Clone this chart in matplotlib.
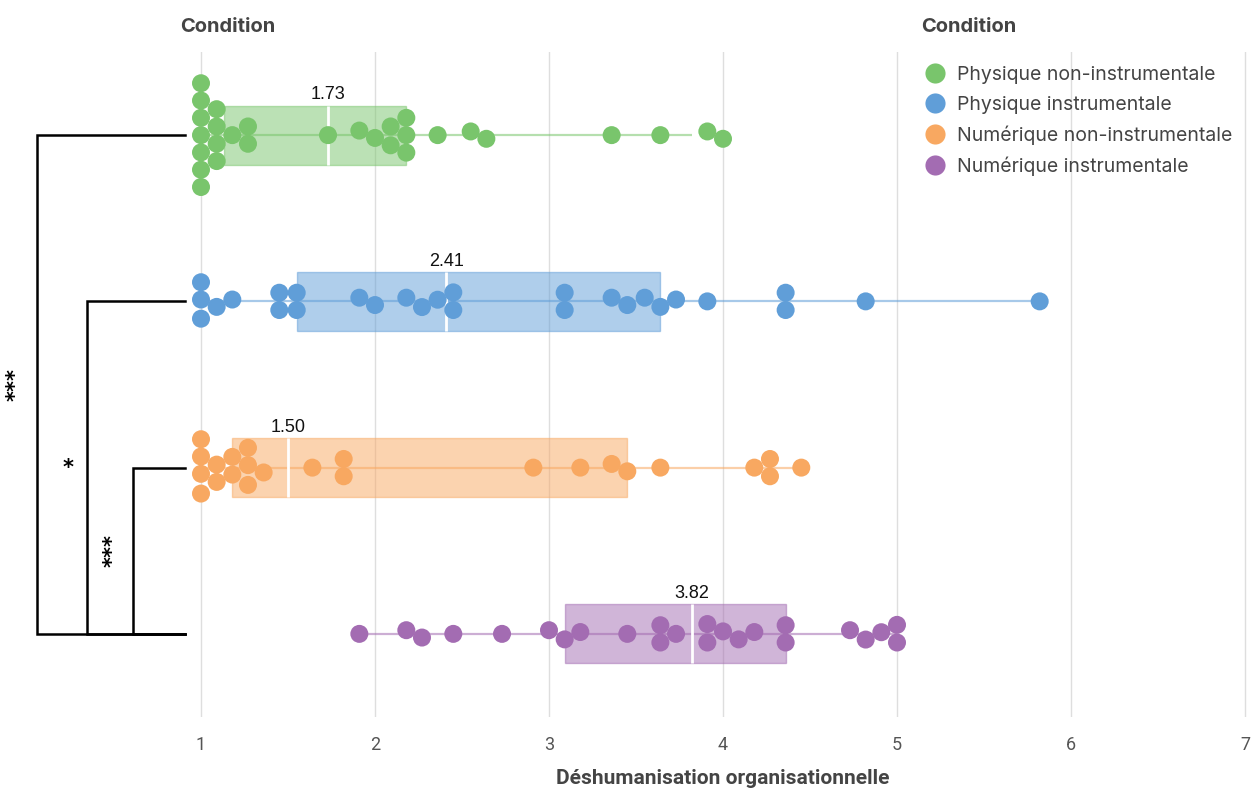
import numpy as np
import matplotlib
matplotlib.use("Agg")
import matplotlib.pyplot as plt
from matplotlib.patches import Rectangle
from matplotlib.lines import Line2D
from matplotlib.transforms import blended_transform_factory

# ---------------- data ----------------
categories = ["Physique non-instrumentale", "Physique instrumentale",
              "Numérique non-instrumentale", "Numérique instrumentale"]

phys_non_instr = [1.00, 1.00, 1.00, 1.00, 1.00, 1.00, 1.00, 1.09, 1.09, 1.09, 1.09,
                  1.18, 1.27, 1.27, 1.73, 1.91, 2.00, 2.09, 2.09, 2.18, 2.18, 2.18,
                  2.36, 2.55, 2.64, 3.36, 3.64, 3.91, 4.00]
phys_instr = [1.00, 1.00, 1.00, 1.09, 1.18, 1.45, 1.45, 1.55, 1.55, 1.91, 2.00, 2.18,
              2.27, 2.36, 2.45, 2.45, 3.09, 3.09, 3.36, 3.45, 3.55, 3.64, 3.73, 3.91,
              4.36, 4.36, 4.82, 5.82]
num_non_instr = [1.00, 1.00, 1.00, 1.00, 1.09, 1.09, 1.18, 1.18, 1.27, 1.27, 1.27,
                 1.36, 1.64, 1.82, 1.82, 2.91, 3.18, 3.36, 3.45, 3.64, 4.18, 4.27,
                 4.27, 4.45]
num_instr = [1.91, 2.18, 2.27, 2.45, 2.73, 3.00, 3.09, 3.18, 3.45, 3.64, 3.64, 3.73,
             3.91, 3.91, 4.00, 4.09, 4.18, 4.36, 4.36, 4.73, 4.82, 4.91, 5.00, 5.00]
series = [phys_non_instr, phys_instr, num_non_instr, num_instr]

box_q1 = [1.13, 1.55, 1.18, 3.09]
box_median = [1.73, 2.41, 1.50, 3.82]
box_q3 = [2.18, 3.64, 3.45, 4.36]
whisker_lo = [1.00, 1.00, 1.00, 1.91]
whisker_hi = [3.82, 5.82, 4.45, 5.00]

x_ticks = [1, 2, 3, 4, 5, 6, 7]
x_label = "Déshumanisation organisationnelle"
legend_title = "Condition"
y_title = "Condition"

# significance brackets: (row a, row b, label)
brackets = [(0, 3, "***"), (1, 3, "*"), (2, 3, "***")]

# ---------------- style ----------------
colors = ["#79c56c", "#609ed8", "#f8a861", "#a36cb2"]
W, H = 1257, 790
def fx(px): return px / W
def fy(py): return 1 - py / H

PX_PER_X = 174.0     # pixels per x unit
PX_PER_ROW = 166.3   # pixels per row
D_PX = 17.3          # swarm spacing
MARKER_PX = 18.0

fig = plt.figure(figsize=(W / 100, H / 100), dpi=100)
ax_left_px, ax_right_px, ax_top_px, ax_bot_px = 190, 1250, 52, 717
ax = fig.add_axes([fx(ax_left_px), fy(ax_bot_px),
                   (ax_right_px - ax_left_px) / W, (ax_bot_px - ax_top_px) / H])
ax.set_xlim(1 - (201 - ax_left_px) / PX_PER_X, 7 + (ax_right_px - 1245) / PX_PER_X)
ax.set_ylim(len(categories) - 0.5, -0.5)
for s in ax.spines.values():
    s.set_visible(False)
ax.set_yticks([])
ax.set_xticks(x_ticks)
ax.set_xticklabels([str(t) for t in x_ticks], fontsize=13, color="#555555",
                   fontfamily="Roboto")
ax.tick_params(axis="x", length=0, pad=14)
ax.grid(axis="x", color="#dedede", linewidth=1.0)
ax.set_axisbelow(True)
ax.set_xlabel(x_label, fontsize=15, fontweight="bold", color="#444444",
              fontfamily="Roboto", va="center")
ax.xaxis.set_label_coords(0.5 + (723 - (ax_left_px + ax_right_px) / 2) / (ax_right_px - ax_left_px),
                          -(778 - ax_bot_px) / (ax_bot_px - ax_top_px))


def swarm(values, d, xscale):
    vals = np.asarray(values, float)
    n = len(vals)
    order = np.argsort(vals, kind="stable")
    x = vals * xscale
    y = np.zeros(n)
    uniq, inv = np.unique(vals, return_inverse=True)
    for k in range(len(uniq)):
        idx = np.where(inv == k)[0]
        y[idx] = (np.arange(len(idx)) - (len(idx) - 1) / 2) * d
    for _ in range(3000):
        moved = False
        for a in range(n):
            i = order[a]
            for b in range(a + 1, n):
                j = order[b]
                dx = abs(x[i] - x[j])
                if dx >= d:
                    continue
                need = np.sqrt(d * d - dx * dx)
                dy = y[j] - y[i]
                if abs(dy) < need - 1e-4:
                    sgn = np.sign(dy) if abs(dy) > 1e-9 else 1.0
                    delta = (need - abs(dy)) / 2
                    y[i] -= sgn * delta
                    y[j] += sgn * delta
                    moved = True
        if not moved:
            break
    return y


box_half = 29.5 / PX_PER_ROW
marker_s = (MARKER_PX * 72 / 100) ** 2

for r, vals in enumerate(series):
    c = colors[r]
    ax.plot([whisker_lo[r], whisker_hi[r]], [r, r], color=c, alpha=0.55,
            linewidth=1.6, zorder=1, solid_capstyle="butt")
    ax.add_patch(Rectangle((box_q1[r], r - box_half), box_q3[r] - box_q1[r],
                           2 * box_half, facecolor=c, alpha=0.5, edgecolor=c,
                           linewidth=1.0, zorder=2))
    ax.plot([box_median[r], box_median[r]], [r - box_half, r + box_half],
            color="white", linewidth=2.0, zorder=3, solid_capstyle="butt")
    ax.annotate(f"{box_median[r]:.2f}", (box_median[r], r - box_half),
                xytext=(0, 4.5), textcoords="offset points", ha="center",
                va="baseline", fontsize=13, color="#111111",
                fontfamily="Liberation Sans", zorder=5)
    off = swarm(vals, D_PX, PX_PER_X)
    ax.scatter(vals, r + off / PX_PER_ROW, s=marker_s, color=c, edgecolors="none",
               zorder=4)

# significance brackets (drawn left of axes)
tb = blended_transform_factory(fig.transFigure, ax.transData)
bracket_x_px = [37, 87, 133]
label_x_px = [16, 68, 113]
end_x_px = 185
for (a, b, lab), bx, lx in zip(brackets, bracket_x_px, label_x_px):
    ax.plot([fx(end_x_px), fx(bx), fx(bx), fx(end_x_px)], [a, a, b, b],
            color="black", linewidth=1.8, transform=tb, clip_on=False,
            solid_joinstyle="miter")
    ax.text(fx(lx), (a + b) / 2, lab, transform=tb, rotation=90 if len(lab) > 1 else 0,
            ha="center", va="center", fontsize=15, fontweight="bold",
            color="black", fontfamily="DejaVu Sans")

# titles
fig.text(fx(228), fy(27), y_title, ha="center", va="center", fontsize=14.5,
         fontweight="bold", color="#444444", fontfamily="Inter")
fig.text(fx(921), fy(27), legend_title, ha="left", va="center", fontsize=14.5,
         fontweight="bold", color="#444444", fontfamily="Inter")

handles = [Line2D([], [], linestyle="none", marker="o", markersize=14.5,
                  markerfacecolor=c, markeredgecolor="none") for c in colors]
leg = ax.legend(handles, categories, loc="upper left",
                bbox_to_anchor=(fx(925), fy(66)), bbox_transform=fig.transFigure,
                frameon=False, borderpad=0, borderaxespad=0, handlelength=1.0,
                handletextpad=0.66, labelspacing=0.6,
                prop={"family": "Inter", "size": 14})
for t in leg.get_texts():
    t.set_color("#444444")

fig.savefig("out.png", dpi=100)
